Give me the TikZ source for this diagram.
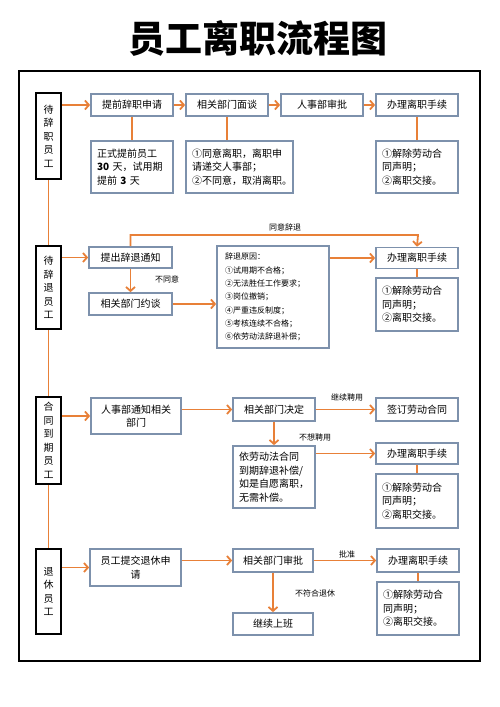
\documentclass[tikz,border=0pt]{standalone}
\usepackage{fontspec}
\setmainfont{Noto Sans CJK SC}
\usetikzlibrary{arrows.meta}
\definecolor{boxc}{RGB}{125,145,172}
\definecolor{orng}{RGB}{232,128,56}
\tikzset{
  bx/.style={draw=boxc, line width=1.7pt, fill=white, inner sep=0pt, font=\fontsize{10}{13.5}\selectfont, align=center},
  subbx/.style={bx, align=left, font=\fontsize{10}{13.5}\selectfont},
  lb/.style={draw=black, line width=2pt, fill=white, inner sep=0pt, minimum width=25, font=\fontsize{10}{13.5}\selectfont, align=center},
  arr/.style={draw=orng, line width=1.8pt, -{Straight Barb[length=4pt,width=9pt]}},
  ln/.style={draw=orng, line width=1.8pt},
  lab/.style={font=\fontsize{8}{10}\selectfont, inner sep=0pt}
}
\begin{document}
\begin{tikzpicture}[x=1pt,y=-1pt]
\useasboundingbox[fill=white] (0,0) rectangle (500,707);
\node[font=\bfseries\fontsize{37}{40}\selectfont] (title) at (258,38) {员工离职流程图};
\draw[line width=1.8pt] (19,71) rectangle (480,661);

% left boxes
\node[lb, minimum height=86] (L1) at (48.5,136) {待\\辞\\职\\员\\工};
\node[lb, minimum height=83] (L2) at (48.5,287.5) {待\\辞\\退\\员\\工};
\node[lb, minimum height=87] (L3) at (48.5,440.5) {合\\同\\到\\期\\员\\工};
\node[lb, minimum height=85] (L4) at (48.5,591.5) {退\\休\\员\\工};

% section 1
\node[bx, minimum width=82, minimum height=22] (a1) at (132,105) {提前辞职申请};
\node[bx, minimum width=82, minimum height=22] (a2) at (227,105) {相关部门面谈};
\node[bx, minimum width=82, minimum height=22] (a3) at (322,105) {人事部审批};
\node[bx, minimum width=82, minimum height=22] (a4) at (417,105) {办理离职手续};
\node[subbx, minimum width=82, minimum height=52, text width=70] (a1s) at (132,167) {正式提前员工\\\textbf{30}~天，试用期\\提前~\textbf{3}~天};
\node[subbx, minimum width=107, minimum height=52, text width=95] (a2s) at (239.5,167) {①同意离职，离职申\\请递交人事部；\\②不同意，取消离职。};
\node[subbx, minimum width=82, minimum height=52, text width=70] (a4s) at (417,167) {①解除劳动合\\同声明；\\②离职交接。};

% section 2
\node[bx, minimum width=83, minimum height=21] (b1) at (130.5,257.5) {提出辞退通知};
\node[bx, minimum width=83, minimum height=22] (b2) at (130.5,304) {相关部门约谈};
\node[bx, minimum width=112, minimum height=102, align=left, text width=96, font=\fontsize{8}{13.3}\selectfont] (b3) at (273,297) {辞退原因：\\①试用期不合格；\\②无法胜任工作要求；\\③岗位撤销；\\④严重违反制度；\\⑤考核连续不合格；\\⑥依劳动法辞退补偿；};
\node[bx, minimum width=82, minimum height=21] (b4) at (417,258) {办理离职手续};
\node[subbx, minimum width=82, minimum height=53, text width=70] (b4s) at (417,304.5) {①解除劳动合\\同声明；\\②离职交接。};
\coordinate (btop) at (418,235);

% section 3
\node[bx, minimum width=90, minimum height=36] (c1) at (136,416) {人事部通知相关\\部门};
\node[bx, minimum width=82, minimum height=23] (c2) at (274,409.5) {相关部门决定};
\node[bx, minimum width=82, minimum height=23] (c3) at (417,409.5) {签订劳动合同};
\node[subbx, minimum width=82, minimum height=62, text width=70] (c4) at (274,477) {依劳动法合同\\到期辞退补偿/\\如是自愿离职，\\无需补偿。};
\node[bx, minimum width=82, minimum height=21] (c5) at (417,453.5) {办理离职手续};
\node[subbx, minimum width=82, minimum height=54, text width=70] (c5s) at (417,501) {①解除劳动合\\同声明；\\②离职交接。};

% section 4
\node[bx, minimum width=91, minimum height=37] (d1) at (135.5,567.5) {员工提交退休申\\请};
\node[bx, minimum width=80, minimum height=23] (d2) at (273,560.5) {相关部门审批};
\node[bx, minimum width=82, minimum height=23] (d3) at (418,560.5) {办理离职手续};
\node[subbx, minimum width=82, minimum height=53, text width=70] (d3s) at (418,608.5) {①解除劳动合\\同声明；\\②离职交接。};
\node[bx, minimum width=80, minimum height=22] (d4) at (273,624) {继续上班};

% connectors: left spine
\draw[ln] (L1.south) -- (L2.north);
\draw[ln] (L2.south) -- (L3.north);
\draw[ln] (L3.south) -- (L4.north);

% section 1
\draw[arr] (L1.east |- a1) -- (a1.west);
\draw[arr] (a1.east) -- (a2.west);
\draw[arr] (a2.east) -- (a3.west);
\draw[arr] (a3.east) -- (a4.west);
\draw[ln] (a1.south) -- (a1s.north);
\draw[ln] (a2.south) -- (a2.south |- a2s.north);
\draw[ln] (a4.south) -- (a4s.north);

% section 2
\draw[arr] (L2.east |- b1) -- (b1.west);
\draw[arr] (b1.south) -- (b2.north);
\node[lab] (nty) at (167,279) {不同意};
\draw[arr] (b2.east) -- (b3.west |- b2);
\draw[arr] (b3.east |- b4) -- (b4.west);
\draw[ln] (b4.south) -- (b4s.north);
\draw[arr] (b1.north) |- (btop) -- (b4.north);
\node[lab] (tyct) at (285,227) {同意辞退};

% section 3
\draw[arr] (L3.east |- c1) -- (c1.west);
\draw[arr] (c1.east |- c2) -- (c2.west);
\draw[arr] (c2.east) -- (c3.west);
\node[lab] (jxpy) at (347,397) {继续聘用};
\draw[arr] (c2.south) -- (c4.north);
\node[lab] (bxpy) at (315,437) {不想聘用};
\draw[arr] (c4.east |- c5) -- (c5.west);
\draw[ln] (c5.south) -- (c5s.north);

% section 4
\draw[arr] (L4.east |- d1) -- (d1.west);
\draw[arr] (d1.east |- d2) -- (d2.west);
\draw[arr] (d2.east) -- (d3.west);
\node[lab] (pz) at (347,554) {批准};
\draw[arr] (d2.south) -- (d4.north);
\node[lab] (bfh) at (315,593) {不符合退休};
\draw[ln] (d3.south) -- (d3s.north);
\end{tikzpicture}
\end{document}
